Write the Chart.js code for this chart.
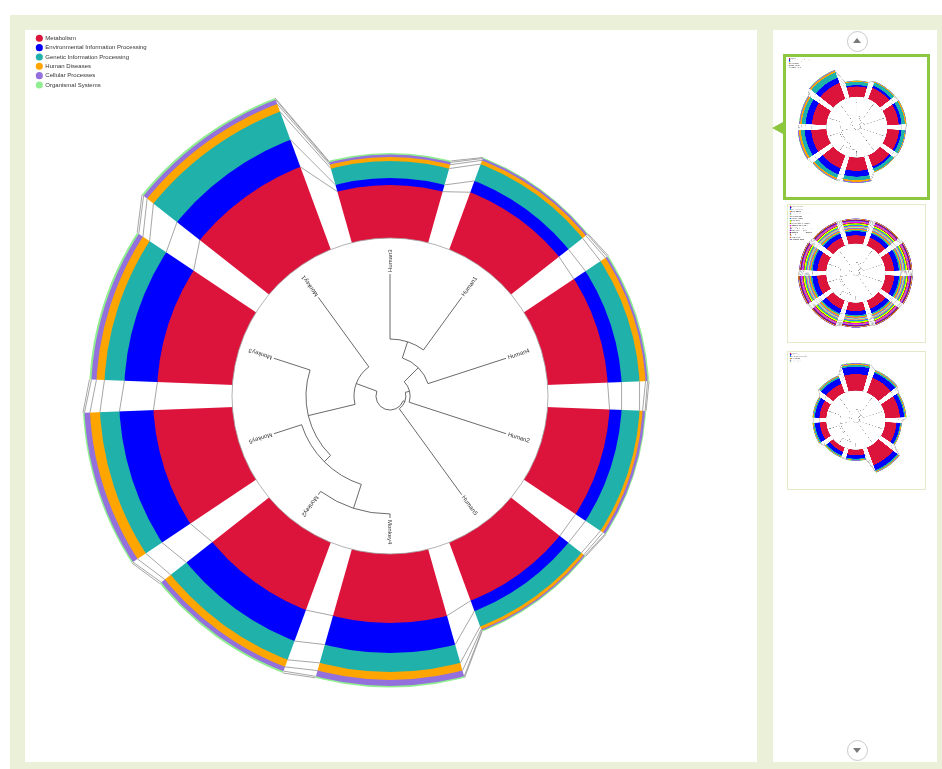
<!DOCTYPE html>
<html>
<head>
<meta charset="utf-8">
<title>KEGG pathway profile – circular stacked bars with sample clustering</title>
<script src="https://cdn.jsdelivr.net/npm/chart.js@4.4.1/dist/chart.umd.min.js"></script>
<style>
  html, body { margin: 0; padding: 0; background: #fff; width: 942px; height: 769px; overflow: hidden; }
  #frame { position: absolute; left: 10px; top: 15px; width: 932px; height: 754px; background: #ebf0d8; }
  #viewer { position: absolute; left: 25px; top: 30px; width: 732px; height: 732px; background: #fff; }
  #mainChart { position: absolute; left: 8px; top: 2px; }
  #sidebar { position: absolute; left: 773px; top: 30px; width: 164px; height: 732px; background: #fff; }
  .nav { position: absolute; left: 74px; width: 19px; height: 19px; border: 1px solid #c9c9c9; border-radius: 50%; background: #fff; box-sizing: content-box; }
  .nav::after { content: ''; position: absolute; left: 5px; width: 0; height: 0;
                border-left: 4.5px solid transparent; border-right: 4.5px solid transparent; }
  .nav.up { top: 1px; }
  .nav.up::after { top: 6px; border-bottom: 5px solid #7a7a7a; }
  .nav.down { top: 710px; }
  .nav.down::after { top: 7px; border-top: 5px solid #7a7a7a; }
  .thumb { position: absolute; left: 14px; width: 137px; height: 137px; border: 1.5px solid #e2eac8; background: #fff; overflow: hidden; }
  .thumb.active { left: 10px; top: 24px; width: 141px; height: 140px; border: 3px solid #8dc63f; }
  .thumb canvas { position: absolute; transform-origin: 0 0; }
  #pointer { position: absolute; left: -1px; top: 92px; width: 0; height: 0;
             border-top: 6.5px solid transparent; border-bottom: 6.5px solid transparent; border-right: 11px solid #8dc63f; }
</style>
</head>
<body>
<div id="frame"></div>
<div id="viewer"><canvas id="mainChart" width="714" height="728"></canvas></div>
<div id="sidebar">
  <div class="nav up"></div>
  <div id="pointer"></div>
  <div class="thumb active" id="thumb1"><canvas id="thumbChart1" width="714" height="728"></canvas></div>
  <div class="thumb" id="thumb2" style="top:174px"><canvas id="thumbChart2" width="714" height="728"></canvas></div>
  <div class="thumb" id="thumb3" style="top:321px"><canvas id="thumbChart3" width="714" height="728"></canvas></div>
  <div class="nav down"></div>
</div>
<script>
// Samples, in the clockwise order of the ring (first one at 12 o'clock)
const samples = ['Human3', 'Human1', 'Human4', 'Human2', 'Human5',
                 'Monkey4', 'Monkey2', 'Monkey5', 'Monkey3', 'Monkey1'];

// KEGG level-1 categories, stacked from the inside out
const categories = ['Metabolism', 'Environmental Information Processing', 'Genetic Information Processing',
                    'Human Diseases', 'Cellular Processes', 'Organismal Systems'];
const categoryColors = ['#DC143C', '#0000FF', '#20B2AA', '#FFA500', '#9370DB', '#90EE90'];

// Relative abundance of each level-1 category per sample
const metabolism    = [53, 61, 60, 62, 62, 69, 72, 79, 75, 88];
const environmental = [7, 12, 14, 12, 11, 30, 33, 34, 33, 29];
const genetic       = [17, 18, 18, 18, 16.5, 19, 20, 19.5, 20, 30];
const humanDiseases = [4, 4, 6, 3, 3, 8, 7.5, 10, 8, 8];
const cellular      = [2.5, 2, 2, 2.5, 1.5, 6, 4.5, 5.5, 5, 4.5];
const organismal    = [1.5, 1, 1.5, 1, 1, 1.5, 2, 1.5, 2, 2];

// Hierarchical clustering of the samples: pairs of merged clusters
// (ids < 10 are samples, id 10 + m is the cluster made by merge m)
const treeMerges = [[0, 1], [10, 2], [11, 3], [12, 4], [5, 6], [14, 7], [15, 8], [16, 9], [13, 17]];
// Radial position of each merge, as a fraction of the tip radius
const mergeDepth = [0.467, 0.328, 0.165, 0.13, 0.967, 0.762, 0.689, 0.295, 0.115];

// Second saved figure: KEGG level-2 pathways
const level2Names = ['Carbohydrate metabolism', 'Membrane transport', 'Amino acid metabolism',
  'Energy metabolism', 'Metabolism of cofactors and vitamins', 'Translation', 'Replication and repair',
  'Nucleotide metabolism', 'Lipid metabolism', 'Signal transduction', 'Glycan biosynthesis and metabolism',
  'Metabolism of other amino acids', 'Cell motility', 'Xenobiotics biodegradation and metabolism',
  'Folding, sorting and degradation', 'Metabolism of terpenoids and polyketides', 'Transcription',
  'Biosynthesis of other secondary metabolites', 'Cellular community - prokaryotes', 'Drug resistance: antimicrobial'];
const level2Colors = ['#DC143C', '#0000FF', '#20B2AA', '#FFA500', '#9370DB', '#98FB98', '#F08080', '#1E90FF',
  '#7CFC00', '#FFFF00', '#808000', '#FF00FF', '#FA8072', '#7B68EE', '#9400D3', '#800080', '#A0522D',
  '#D2B48C', '#D2691E', '#9370DB'];
const level2Rows = [
  [44, 46, 47, 48, 47, 45, 48, 49, 48, 45],
  [22, 23, 25, 25, 24, 22, 25, 26, 25, 23],
  [7, 7, 8, 8, 8, 7, 8, 8, 8, 7],
  [6, 6, 6, 7, 6, 6, 7, 7, 6, 6],
  [6, 6, 6, 6, 6, 5, 6, 6, 6, 6],
  [5, 5, 5.5, 5.5, 5, 5, 5.5, 6, 5.5, 5],
  [5, 5, 5, 5, 5, 4.5, 5, 5.5, 5, 5],
  [4.5, 4.5, 5, 5, 4.5, 4.5, 5, 5, 5, 4.5],
  [4, 4, 4.5, 4.5, 4, 4, 4.5, 4.5, 4.5, 4],
  [4, 4, 4, 4, 4, 4, 4, 4.5, 4, 4],
  [3.5, 3.5, 4, 4, 3.5, 3.5, 4, 4, 4, 3.5],
  [3.5, 3.5, 3.5, 3.5, 3.5, 3.5, 3.5, 4, 3.5, 3.5],
  [3, 3, 3.5, 3.5, 3, 3, 3.5, 3.5, 3.5, 3],
  [3, 3, 3, 3, 3, 3, 3, 3.5, 3, 3],
  [3, 3, 3, 3, 3, 2.5, 3, 3, 3, 3],
  [2.5, 2.5, 3, 3, 2.5, 2.5, 3, 3, 3, 2.5],
  [2.5, 2.5, 2.5, 2.5, 2.5, 2.5, 2.5, 3, 2.5, 2.5],
  [2, 2, 2.5, 2.5, 2, 2, 2.5, 2.5, 2.5, 2],
  [2, 2, 2, 2, 2, 2, 2, 2.5, 2, 2],
  [2, 2, 2, 2, 2, 2, 2, 2, 2, 2]
];

// Third saved figure: level-1 categories of another gene set
const altMetabolism    = [88, 85, 78, 60, 100, 30, 25, 35, 37, 50];
const altEnvironmental = [40, 28, 22, 18, 28, 18, 20, 26, 24, 32];
const altGenetic       = [9, 8, 6, 5, 7, 6, 6, 7, 7, 9];
const altHumanDiseases = [5, 4, 4, 3, 4, 3, 3, 3, 3, 4];
const altCellular      = [4, 3, 2, 2, 3, 2, 2, 2, 2, 3];
const altOrganismal    = [3, 3, 2, 1, 2, 2, 2, 2, 2, 2];

const FONT = '"Liberation Sans", Arial, Helvetica, sans-serif';
const GAP_HALF = 5;          // half width of the white gap at the centre (px)
const GAP_SLOPE = 0.0384;    // widening of the gap per px of radius
const TIP_FRACTION = 0.772;  // tree tips, as a fraction of the inner hole radius

function cumulativeLayers(layers) {
  return layers.map((_, k) => samples.map((_, i) => {
    let s = 0;
    for (let j = 0; j <= k; j++) s += layers[j][i];
    return s;
  }));
}

function gapHalf(t) { return GAP_HALF + t * GAP_SLOPE; }

// Point where the circle of radius r meets one side of the gap at angle beta
function edgePoint(cx, cy, beta, r, side) {
  let t = r;
  for (let it = 0; it < 5; it++) {
    const h = gapHalf(t);
    t = Math.sqrt(Math.max(r * r - h * h, 0));
  }
  const h = gapHalf(t);
  return [cx + Math.cos(beta) * t - side * Math.sin(beta) * h,
          cy + Math.sin(beta) * t + side * Math.cos(beta) * h];
}

// Gaps between samples, links between the layer tops, hole and dendrogram
const ringDecor = {
  id: 'ringDecor',
  afterDatasetsDraw(chart) {
    const ctx = chart.ctx;
    const scale = chart.scales.r;
    const cx = scale.xCenter, cy = scale.yCenter;
    const metas = chart.data.datasets.map((d, i) => chart.getDatasetMeta(i));
    const arcs = metas[0].data;
    const n = arcs.length;
    const r0 = scale.getDistanceFromCenterForValue(0);
    const rFar = scale.drawingArea + 20;

    ctx.save();
    // white gaps
    ctx.fillStyle = '#ffffff';
    for (let i = 0; i < n; i++) {
      const b = arcs[i].endAngle;
      const c = Math.cos(b), s = Math.sin(b);
      const h0 = GAP_HALF, h1 = gapHalf(rFar);
      ctx.beginPath();
      ctx.moveTo(cx + s * h0, cy - c * h0);
      ctx.lineTo(cx + c * rFar + s * h1, cy + s * rFar - c * h1);
      ctx.lineTo(cx + c * rFar - s * h1, cy + s * rFar + c * h1);
      ctx.lineTo(cx - s * h0, cy + c * h0);
      ctx.closePath();
      ctx.fill();
    }
    // links across each gap between matching layer tops
    ctx.strokeStyle = '#8f8f8f';
    ctx.lineWidth = 0.8;
    for (let i = 0; i < n; i++) {
      const j = (i + 1) % n;
      const b = arcs[i].endAngle;
      for (let k = 0; k < metas.length; k++) {
        const p = edgePoint(cx, cy, b, metas[k].data[i].outerRadius, -1);
        const q = edgePoint(cx, cy, b, metas[k].data[j].outerRadius, 1);
        ctx.beginPath();
        ctx.moveTo(p[0], p[1]);
        ctx.lineTo(q[0], q[1]);
        ctx.stroke();
      }
    }
    // central hole
    ctx.beginPath();
    ctx.arc(cx, cy, r0, 0, Math.PI * 2);
    ctx.fillStyle = '#ffffff';
    ctx.fill();
    ctx.strokeStyle = '#a0a0a0';
    ctx.lineWidth = 0.8;
    ctx.stroke();

    // dendrogram
    const tipR = r0 * TIP_FRACTION;
    const ang = arcs.map(a => (a.startAngle + a.endAngle) / 2);
    const rad = samples.map(() => tipR);
    treeMerges.forEach((m, idx) => {
      ang.push((ang[m[0]] + ang[m[1]]) / 2);
      rad.push(mergeDepth[idx] * tipR);
    });
    ctx.strokeStyle = '#444444';
    ctx.lineWidth = 0.8;
    treeMerges.forEach((m, idx) => {
      const id = n + idx;
      const r = rad[id];
      const a1 = Math.min(ang[m[0]], ang[m[1]]), a2 = Math.max(ang[m[0]], ang[m[1]]);
      ctx.beginPath();
      ctx.arc(cx, cy, r, a1, a2);
      ctx.stroke();
      m.forEach(ch => {
        ctx.beginPath();
        ctx.moveTo(cx + Math.cos(ang[ch]) * r, cy + Math.sin(ang[ch]) * r);
        ctx.lineTo(cx + Math.cos(ang[ch]) * rad[ch], cy + Math.sin(ang[ch]) * rad[ch]);
        ctx.stroke();
      });
    });
    // sample names, reading outwards
    ctx.fillStyle = '#333333';
    ctx.font = '6px ' + FONT;
    ctx.textAlign = 'left';
    ctx.textBaseline = 'middle';
    samples.forEach((name, i) => {
      ctx.save();
      ctx.translate(cx + Math.cos(ang[i]) * (tipR + 2), cy + Math.sin(ang[i]) * (tipR + 2));
      ctx.rotate(ang[i]);
      ctx.fillText(name, 0, 0);
      ctx.restore();
    });
    ctx.restore();
  }
};

function buildConfig(names, layers, colors) {
  const stacked = cumulativeLayers(layers);
  return {
    type: 'polarArea',
    data: {
      labels: samples,
      datasets: names.map((name, k) => ({
        label: name,
        data: stacked[k],
        backgroundColor: colors[k],
        borderWidth: 0
      }))
    },
    options: {
      responsive: false,
      animation: false,
      events: [],
      layout: { padding: 0 },
      scales: {
        r: { display: false, min: -158, max: 199, startAngle: -18 }
      },
      plugins: {
        tooltip: { enabled: false },
        legend: {
          position: 'chartArea',
          align: 'start',
          labels: {
            usePointStyle: true,
            pointStyle: 'circle',
            boxWidth: 6,
            boxHeight: 5,
            padding: 3.33,
            color: '#333333',
            font: { size: 6, family: FONT },
            generateLabels: (chart) => chart.data.datasets.map((ds, i) => ({
              text: ds.label,
              fillStyle: ds.backgroundColor,
              strokeStyle: ds.backgroundColor,
              lineWidth: 0,
              pointStyle: 'circle',
              fontColor: '#333333',
              hidden: false,
              datasetIndex: i
            }))
          }
        }
      }
    },
    plugins: [ringDecor]
  };
}

const level1Layers = [metabolism, environmental, genetic, humanDiseases, cellular, organismal];
new Chart(document.getElementById('mainChart'), buildConfig(categories, level1Layers, categoryColors));

// Saved figures in the side list, drawn at reduced size
function thumbnail(id, inner, config) {
  const s = inner / 732;
  const el = document.getElementById(id);
  el.style.left = (8 * s) + 'px';
  el.style.top = (2 * s) + 'px';
  el.style.transform = 'scale(' + s + ')';
  new Chart(el, config);
}
thumbnail('thumbChart1', 141, buildConfig(categories, level1Layers, categoryColors));
thumbnail('thumbChart2', 137, buildConfig(level2Names, level2Rows, level2Colors));
thumbnail('thumbChart3', 137, buildConfig(categories,
  [altMetabolism, altEnvironmental, altGenetic, altHumanDiseases, altCellular, altOrganismal], categoryColors));
</script>
</body>
</html>
